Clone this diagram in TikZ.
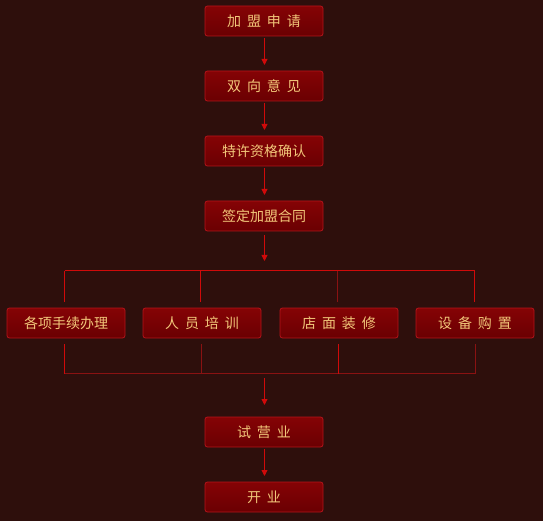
\documentclass[tikz,border=0pt]{standalone}
\usepackage{fontspec}
\newfontfamily\cjk{Noto Sans CJK SC}
\usetikzlibrary{arrows.meta}
\definecolor{bg}{HTML}{2E0F0C}
\definecolor{boxtop}{HTML}{850305}
\definecolor{boxbot}{HTML}{6A0002}
\definecolor{boxline}{HTML}{B5141A}
\definecolor{txt}{HTML}{F2C77A}
\definecolor{ln}{HTML}{D00A0A}
\definecolor{lndark}{HTML}{8A1212}
\newcommand{\gapz}{\hspace{0.42em}}
\begin{document}
\begin{tikzpicture}[x=1pt,y=-1pt,
  box/.style={draw=boxline,line width=0.8pt,top color=boxtop,bottom color=boxbot,rounded corners=2.5pt,
    minimum width=118pt,minimum height=30pt,inner sep=0pt,text=txt,font=\cjk\fontsize{14}{16}\selectfont},
  conn/.style={draw=ln,line width=0.9pt},
  arr/.style={conn,-{Triangle[length=6pt,width=6pt]}},
]
\fill[bg] (0,0) rectangle (543,521);
\useasboundingbox (0,0) rectangle (543,521);
\node[box] (b1) at (264,21) {加\gapz 盟\gapz 申\gapz 请};
\node[box] (b2) at (264,86) {双\gapz 向\gapz 意\gapz 见};
\node[box] (b3) at (264,151) {特许资格确认};
\node[box] (b4) at (264,216) {签定加盟合同};
\node[box] (c1) at (66,323) {各项手续办理};
\node[box] (c2) at (202,323) {人\gapz 员\gapz 培\gapz 训};
\node[box] (c3) at (339,323) {店\gapz 面\gapz 装\gapz 修};
\node[box] (c4) at (475,323) {设\gapz 备\gapz 购\gapz 置};
\node[box] (b5) at (264,432) {试\gapz 营\gapz 业};
\node[box] (b6) at (264,497) {开\gapz 业};
\draw[arr] (264.5,38) -- (264.5,65);
\draw[arr] (264.5,103) -- (264.5,130);
\draw[arr] (264.5,168) -- (264.5,195);
\draw[arr] (264.5,235) -- (264.5,261);
\coordinate (t1) at (64.5,270.5);
\coordinate (t2) at (200.5,270.5);
\coordinate (t3) at (337.5,270.5);
\coordinate (t4) at (474.5,270.5);
\draw[conn] (t1) -- (t4);
\draw[conn] (t1) -- ++(0,31);
\draw[conn] (t2) -- ++(0,31);
\draw[draw=lndark,line width=0.9pt] (t3) -- ++(0,31);
\draw[conn] (t4) -- ++(0,31);
\coordinate (u1) at (64.5,373.5);
\coordinate (u2) at (201.5,373.5);
\coordinate (u3) at (338.5,373.5);
\coordinate (u4) at (475.5,373.5);
\draw[draw=lndark,line width=0.9pt] (u1) -- (u4);
\draw[conn] (u1) -- ++(0,-30);
\draw[draw=lndark,line width=0.9pt] (u2) -- ++(0,-30);
\draw[conn] (u3) -- ++(0,-30);
\draw[draw=lndark,line width=0.9pt] (u4) -- ++(0,-30);
\draw[arr] (264.5,378) -- (264.5,405);
\draw[arr] (264.5,449) -- (264.5,476);
\end{tikzpicture}
\end{document}
